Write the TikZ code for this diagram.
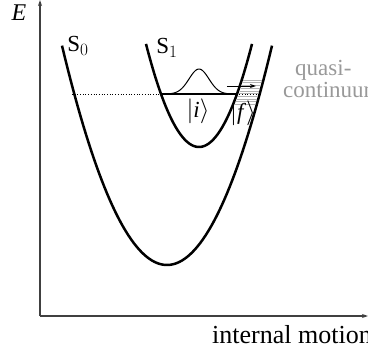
\documentclass[tikz,border=0pt]{standalone}
\usepackage{fontspec}
\setmainfont{Liberation Serif}
\usetikzlibrary{arrows.meta,positioning}

\begin{document}
\begin{tikzpicture}[x=1pt,y=-1pt,>={Stealth[length=6pt,width=4pt]}]
\tikzstyle{lbl}=[font=\fontsize{23}{20}\selectfont,inner sep=0pt]
\tikzstyle{pot}=[line width=2.5pt,black]
\tikzstyle{ax}=[line width=1.8pt,black!75]
\tikzstyle{lev}=[line width=0.5pt,black!30]
\useasboundingbox (0,0) rectangle (368,354);
% axes
\coordinate (O) at (40,316);
\coordinate (Etop) at (40,0);
\coordinate (Xend) at (368,316);
\draw[ax,->] (O)--(Etop);
\draw[ax,->] (O)--(Xend);
\node[lbl,font=\fontsize{24}{26}\selectfont] (E) at (19,13) {\textit{E}};
\node[lbl,font=\fontsize{26}{28}\selectfont,anchor=base west] (xlab) at (212,343) {internal motion};
% potential curves
\draw[pot,domain=62:272,samples=80] plot (\x,{265-0.0199*(\x-167)^2});
\draw[pot,domain=146:252,samples=80] plot (\x,{147-0.0367*(\x-199)^2});
\node[lbl] (S0) at (78,46) {S$_0$};
\node[lbl] (S1) at (167,48) {S$_1$};
% levels
\draw[dotted,line width=0.7pt] (72,94)--(260,94);
\draw[line width=1.4pt] (161,94)--(237,94);
\draw[line width=1pt,domain=161:237,samples=60] plot (\x,{94-25*exp(-((\x-199)/14)^2)});
\foreach \yy in {80,82.7,...,104.5} {
  \pgfmathsetmacro\xa{199+sqrt((147-\yy)/0.0367)+1.5}
  \pgfmathsetmacro\xb{167+sqrt((265-\yy)/0.0199)-1.5}
  \draw[lev] (\xa,\yy)--(\xb,\yy);
}
\coordinate (a0) at (227,86);
\coordinate (a1) at (256,86);
\draw[->,line width=1pt] (a0)--(a1);
\node[lbl] (ki) at (198,111) {$|$\textit{i}$\rangle$};
\node[lbl] (kf) at (243,113) {$|$\textit{f}$\rangle$};
\node[lbl,black!40,align=left,anchor=base west] (quasi) at (283,97) {\hspace{12pt}quasi-\\continuum};
\end{tikzpicture}
\end{document}
